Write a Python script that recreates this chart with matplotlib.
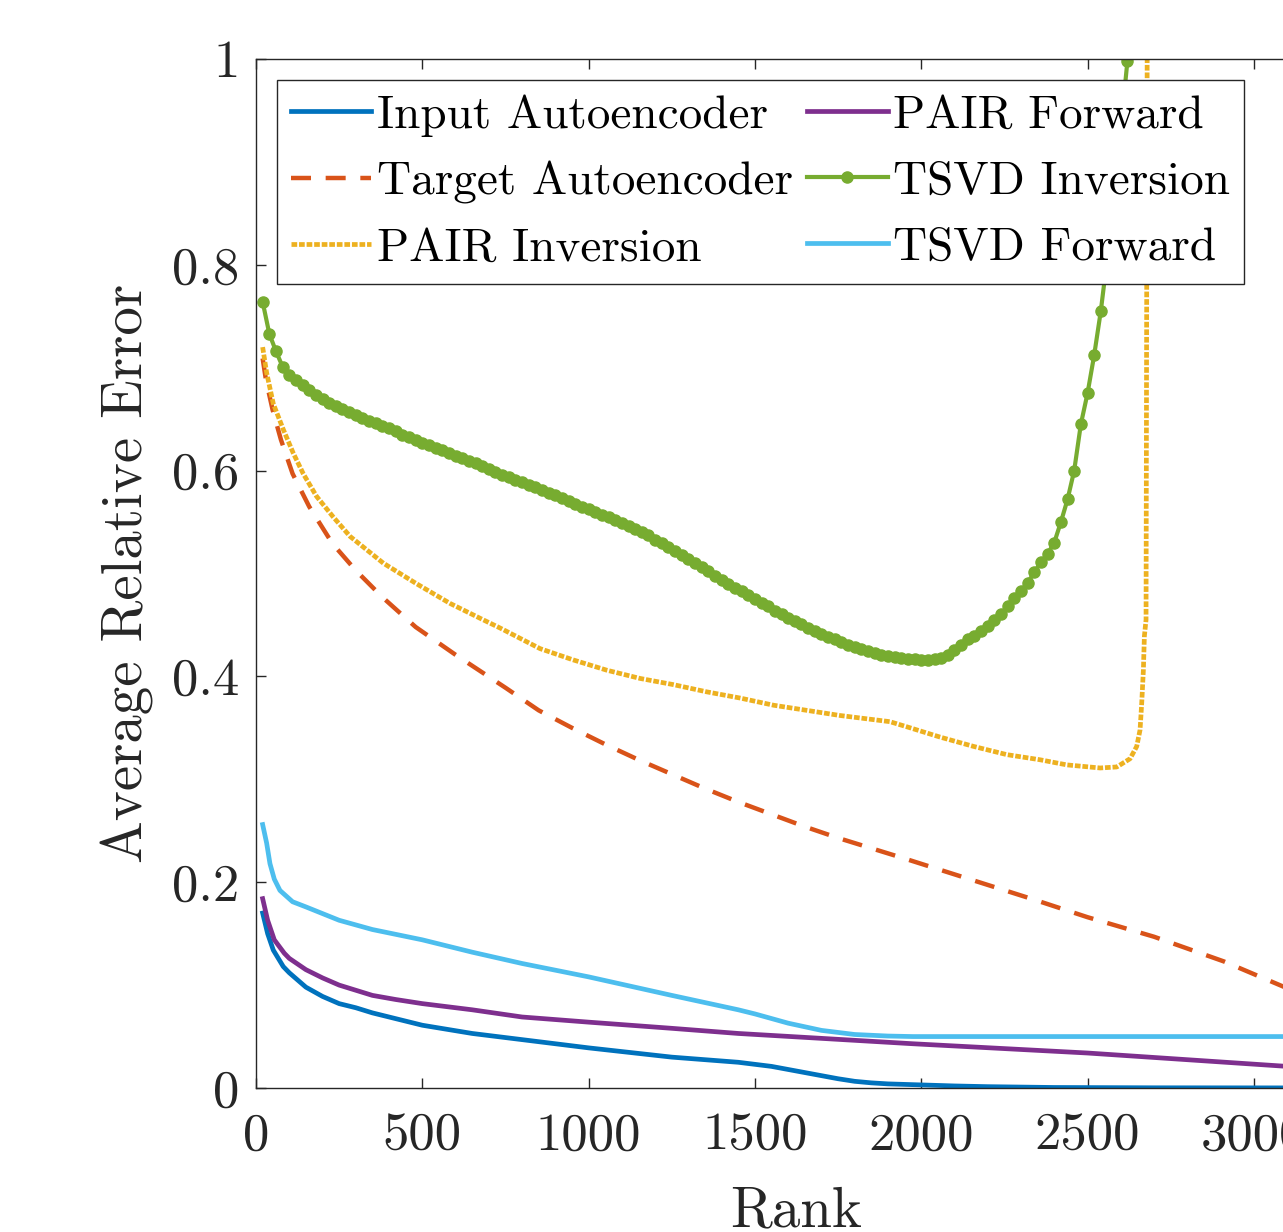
import numpy as np
import matplotlib.pyplot as plt

plt.rcParams['font.family'] = 'cmr10'
plt.rcParams['mathtext.fontset'] = 'cm'
plt.rcParams['axes.unicode_minus'] = False
plt.rcParams['axes.formatter.use_mathtext'] = True

# valores
input_ae_rank = [20, 35, 52, 82, 100, 150, 200, 250, 300, 350, 400, 500, 650, 800, 1000, 1250,
                 1450, 1500, 1550, 1600, 1650, 1700, 1750, 1800, 1850, 1900, 2000, 2100, 2200,
                 2400, 2700, 3100]
input_ae_err = [0.170, 0.150, 0.134, 0.118, 0.112, 0.098, 0.089, 0.082, 0.078, 0.073, 0.069,
                0.061, 0.053, 0.047, 0.039, 0.030, 0.025, 0.023, 0.021, 0.018, 0.015, 0.012,
                0.009, 0.0065, 0.005, 0.004, 0.003, 0.002, 0.0013, 0.0005, 0.0002, 0.0001]

target_ae_rank = [20, 30, 50, 75, 110, 160, 230, 300, 380, 480, 600, 750, 850, 950, 1050, 1150,
                  1250, 1350, 1450, 1550, 1650, 1750, 1850, 1950, 2340, 2500, 2700, 2910, 3100]
target_ae_err = [0.709, 0.688, 0.659, 0.630, 0.597, 0.565, 0.529, 0.503, 0.477, 0.448, 0.421,
                 0.389, 0.367, 0.350, 0.334, 0.319, 0.305, 0.291, 0.278, 0.266, 0.254, 0.243,
                 0.233, 0.223, 0.183, 0.166, 0.147, 0.123, 0.097]

pair_inv_rank = [20, 32, 52, 82, 112, 142, 182, 232, 283, 333, 383, 483, 583, 683, 734, 854, 954,
                 1055, 1155, 1255, 1355, 1455, 1556, 1656, 1756, 1856, 1906, 1957, 2057, 2157,
                 2257, 2357, 2438, 2538, 2588, 2628, 2648, 2658, 2663, 2668, 2671, 2676, 2680]
pair_inv_err = [0.720, 0.695, 0.665, 0.640, 0.617, 0.597, 0.575, 0.555, 0.536, 0.523, 0.510,
                0.490, 0.471, 0.455, 0.447, 0.427, 0.416, 0.406, 0.398, 0.392, 0.385, 0.379,
                0.372, 0.367, 0.362, 0.358, 0.356, 0.351, 0.341, 0.332, 0.324, 0.319, 0.314,
                0.311, 0.312, 0.320, 0.332, 0.348, 0.374, 0.406, 0.439, 0.455, 1.1]

pair_fwd_rank = [20, 35, 55, 85, 100, 150, 200, 250, 300, 350, 420, 500, 650, 800, 1000, 1250,
                 1450, 1975, 2500, 3100]
pair_fwd_err = [0.184, 0.163, 0.144, 0.131, 0.126, 0.115, 0.107, 0.100, 0.095, 0.090, 0.086,
                0.082, 0.076, 0.069, 0.064, 0.058, 0.053, 0.043, 0.034, 0.021]

# TSVD inversion: un punto cada 20 de rango, desde 20
tsvd_inv_err = [
    0.764, 0.733, 0.716, 0.701, 0.693, 0.688, 0.683, 0.678, 0.673, 0.670,
    0.666, 0.663, 0.660, 0.657, 0.654, 0.651, 0.648, 0.646, 0.643, 0.641,
    0.638, 0.635, 0.633, 0.630, 0.627, 0.625, 0.622, 0.620, 0.617, 0.614,
    0.612, 0.609, 0.607, 0.604, 0.602, 0.599, 0.596, 0.594, 0.591, 0.589,
    0.586, 0.584, 0.581, 0.578, 0.576, 0.573, 0.570, 0.568, 0.565, 0.563,
    0.560, 0.557, 0.555, 0.552, 0.549, 0.546, 0.543, 0.540, 0.537, 0.533,
    0.530, 0.526, 0.522, 0.518, 0.514, 0.510, 0.506, 0.502, 0.498, 0.494,
    0.490, 0.486, 0.483, 0.479, 0.475, 0.471, 0.468, 0.464, 0.461, 0.457,
    0.454, 0.451, 0.447, 0.444, 0.441, 0.438, 0.436, 0.433, 0.431, 0.429,
    0.427, 0.425, 0.423, 0.421, 0.420, 0.419, 0.418, 0.417, 0.417, 0.416,
    0.416, 0.417, 0.418, 0.421, 0.426, 0.431, 0.436, 0.439, 0.444, 0.449,
    0.455, 0.461, 0.468, 0.476, 0.483, 0.491, 0.501, 0.511, 0.519, 0.530,
    0.550, 0.572, 0.600, 0.645, 0.675, 0.712, 0.755, 0.808, 0.868, 0.932,
    0.998, 1.070]
tsvd_inv_rank = np.arange(1, len(tsvd_inv_err) + 1) * 20

tsvd_fwd_rank = [20, 32, 42, 55, 72, 110, 150, 250, 350, 500, 650, 800, 1000, 1250, 1450, 1500,
                 1600, 1700, 1800, 1900, 1975, 2500, 3100]
tsvd_fwd_err = [0.256, 0.238, 0.218, 0.203, 0.192, 0.181, 0.176, 0.163, 0.154, 0.144, 0.132,
                0.121, 0.108, 0.090, 0.076, 0.072, 0.063, 0.056, 0.052, 0.0505, 0.050, 0.050,
                0.050]

x_ticks = [0, 500, 1000, 1500, 2000, 2500, 3000]
y_ticks = [0, 0.2, 0.4, 0.6, 0.8, 1]
y_tick_labels = ['0', '0.2', '0.4', '0.6', '0.8', '1']
x_max = 3250

W, H = 1283, 1232
px_per_rank = 166.3 / 500
ax_w = x_max * px_per_rank
fig = plt.figure(figsize=(W / 100, H / 100), dpi=100)
ax = fig.add_axes([256 / W, (H - 1088) / H, ax_w / W, 1029 / H])

lw = 3.4
ax.plot(input_ae_rank, input_ae_err, color='#0072BD', lw=lw, label='Input Autoencoder')
ax.plot(target_ae_rank, target_ae_err, color='#D95319', lw=3.2, dashes=(4.5, 3.3),
        label='Target Autoencoder')
ax.plot(pair_inv_rank, pair_inv_err, color='#EDB120', lw=lw, dashes=(1.2, 0.4),
        label='PAIR Inversion')
ax.plot(pair_fwd_rank, pair_fwd_err, color='#7E2F8E', lw=lw, label='PAIR Forward')
ax.plot(tsvd_inv_rank, tsvd_inv_err, color='#77AC30', lw=3.0, marker='o', markersize=8,
        label='TSVD Inversion')
ax.plot(tsvd_fwd_rank, tsvd_fwd_err, color='#4DBEEE', lw=lw, label='TSVD Forward')

ax.set_xlim(0, x_max)
ax.set_ylim(0, 1)
ax.set_xticks(x_ticks)
ax.set_xticklabels([str(t) for t in x_ticks])
ax.set_yticks(y_ticks)
ax.set_yticklabels(y_tick_labels)
ax.tick_params(direction='in', top=True, right=True, length=7.5, width=1,
               labelsize=38, colors='#262626')
ax.tick_params(axis='x', pad=18)
ax.tick_params(axis='y', pad=12)
for s in ax.spines.values():
    s.set_color('#262626')
    s.set_linewidth(1.0)

ax.set_xlabel('Rank', fontsize=41, color='#262626', labelpad=19)
ax.set_ylabel('Average Relative Error', fontsize=41, color='#262626', labelpad=13)

leg = ax.legend(ncol=2, loc='upper left', bbox_to_anchor=(21 / ax_w, (1088 - 80) / 1029),
                borderaxespad=0, fontsize=34, frameon=True, fancybox=False, framealpha=1,
                edgecolor='#262626', handlelength=1.7, handletextpad=0.12, columnspacing=0.3,
                labelspacing=0.51, borderpad=0.3)
leg.get_frame().set_linewidth(1.0)

plt.savefig('out.png', dpi=100)
